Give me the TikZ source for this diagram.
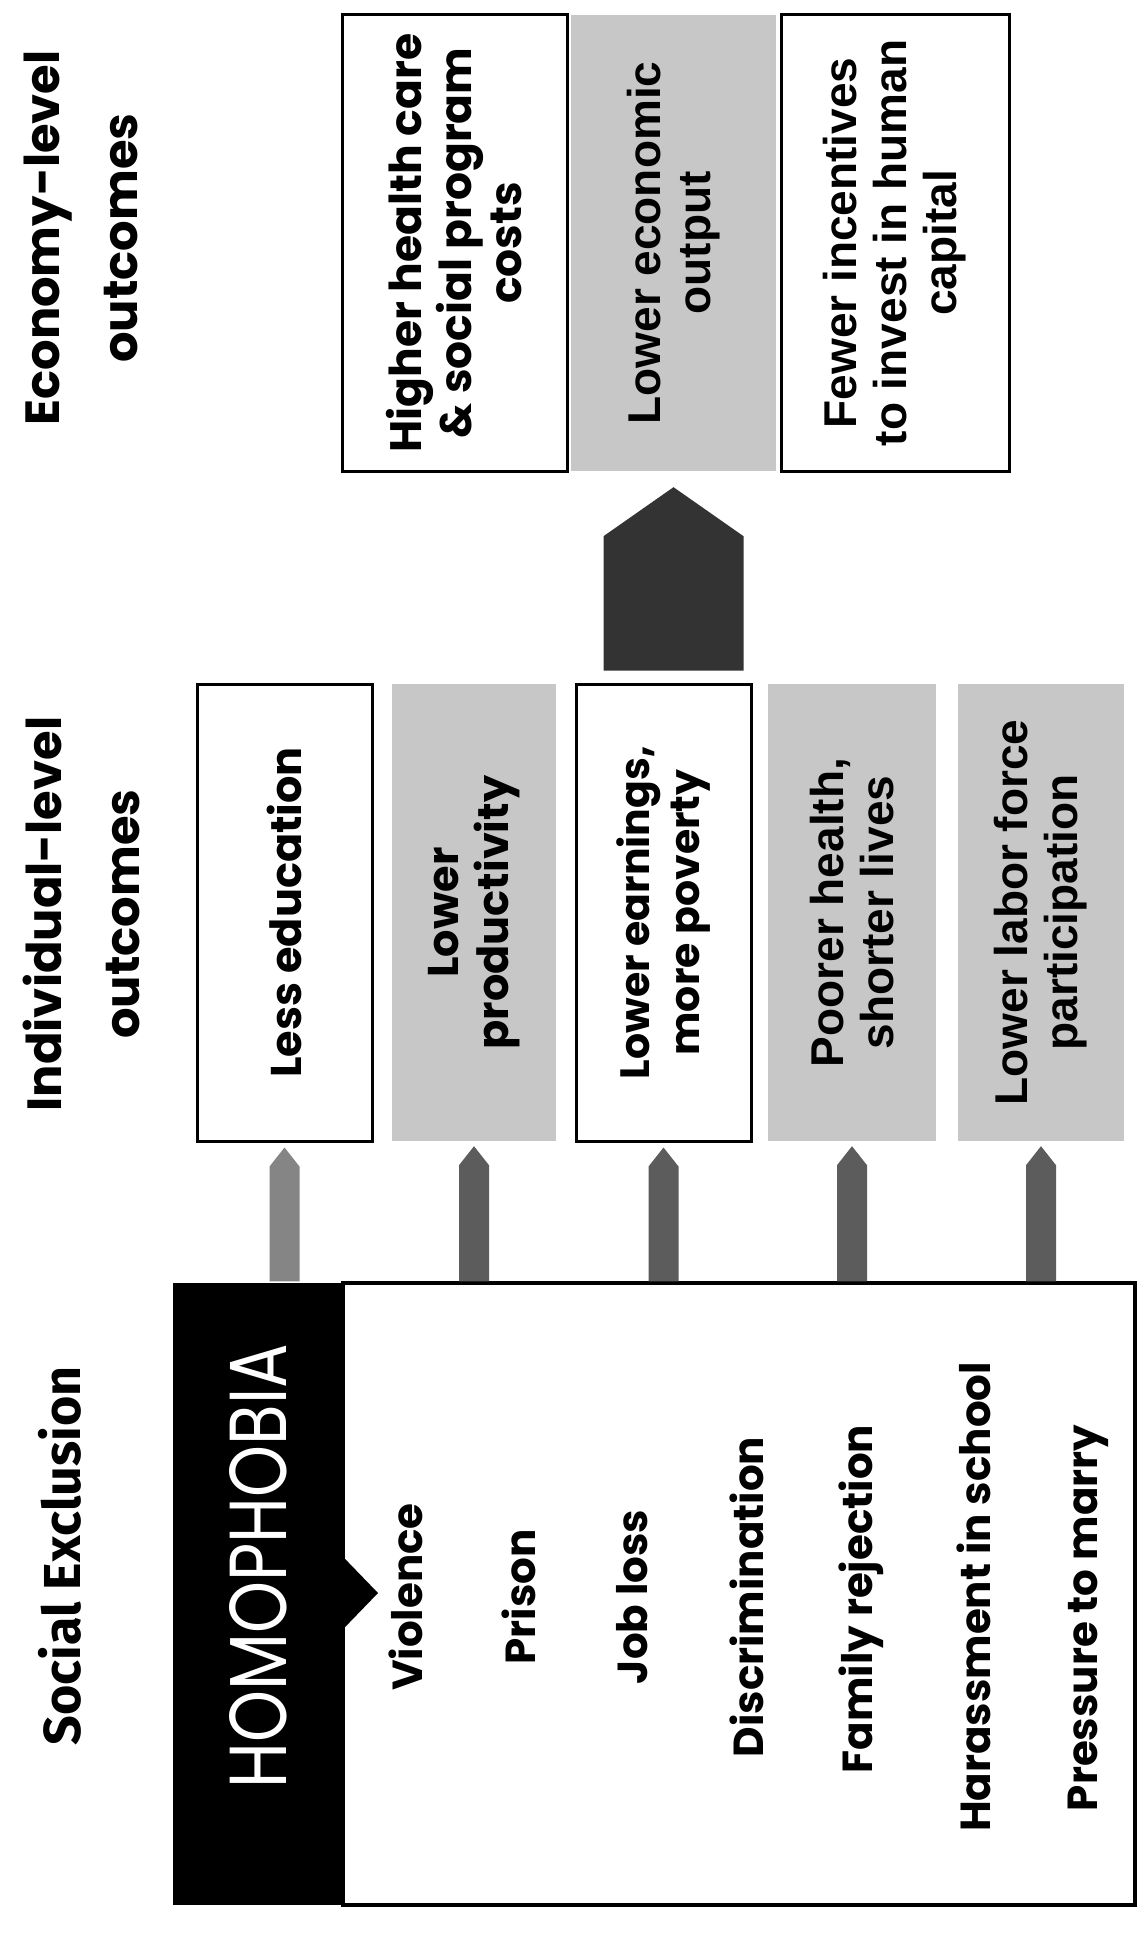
\documentclass[tikz,border=0pt]{standalone}
\usepackage{fontspec}
\setmainfont{Poppins}
\newfontfamily\arialf{Liberation Sans}
\newfontfamily\gillf{Fira Sans}
\usetikzlibrary{calc}

\tikzset{
  wbox/.style={draw=black, line width=3pt, fill=white, rotate=90, align=center, inner sep=0pt},
  gbox/.style={fill=black!22, rotate=90, align=center, inner sep=0pt},
  cgtext/.style={font=\fontsize{43}{50}\selectfont\bfseries},
  artext/.style={font=\arialf\fontsize{46}{50}\selectfont\bfseries},
  item/.style={rotate=90, font=\fontsize{42}{50}\selectfont\bfseries},
  title/.style={rotate=90, align=center, font=\fontsize{48}{78}\selectfont\bfseries},
  arrA/.style={fill=black!48},
  arrB/.style={fill=black!64},
  bigarr/.style={fill=black!80},
}

\begin{document}
\begin{tikzpicture}[x=1pt,y=-1pt]
\useasboundingbox (0,0) rectangle (1142,1934);
\fill[white] (0,0) rectangle (1142,1934);

% titles
\node[rotate=90, font=\gillf\fontsize{52}{58}\selectfont\bfseries] (tsoc) at (60,1556) {Social Exclusion};
\node[title] (tind) at (81,914) {Individual-level\\outcomes};
\node[title] (teco) at (81,238) {Economy-level\\outcomes};

% economy-level boxes
\node[wbox, cgtext, font=\fontsize{44}{50}\selectfont\bfseries, minimum width=456, minimum height=225] (hc) at (454.5,243) {Higher health care\\\& social program\\costs};
\node[gbox, artext, minimum width=456, minimum height=205] (eo) at (673.5,243) {Lower economic\\output};
\node[wbox, artext, minimum width=456, minimum height=228] (fi) at (895,243) {Fewer incentives\\to invest in human\\capital};

% individual-level boxes
\node[wbox, cgtext, minimum width=457, minimum height=175] (le) at (284.5,912.5) {Less education};
\node[gbox, cgtext, minimum width=457, minimum height=164] (lp) at (474,912.5) {Lower\\productivity};
\node[wbox, cgtext, font=\fontsize{41}{50}\selectfont\bfseries, minimum width=457, minimum height=175] (lm) at (663.5,912.5) {Lower earnings,\\more poverty};
\node[gbox, artext, minimum width=457, minimum height=168] (ph) at (852,912.5) {Poorer health,\\shorter lives};
\node[gbox, artext, minimum width=457, minimum height=166] (ll) at (1041,912.5) {Lower labor force\\participation};

% social exclusion box
\node[draw=black, line width=3.5pt, fill=white, minimum width=792, minimum height=622, inner sep=0pt] (list) at (739,1594) {};
\node[fill=black, rotate=90, minimum width=622, minimum height=170, inner sep=0pt] (homo) at (258,1594) {};
\node[rotate=90, text=white, inner sep=0pt, font=\fontsize{60}{64}\selectfont] (homotext) at (258,1566) {\resizebox{444pt}{57pt}{HOMOPHOBIA}};
\fill[black] (homo.south |- 0,1557) -- (378,1593) -- (homo.south |- 0,1629) -- cycle;

\node[item] (i1) at (406,1597) {Violence};
\node[item] (i2) at (519,1597) {Prison};
\node[item] (i3) at (632,1597) {Job loss};
\node[item] (i4) at (747,1597) {Discrimination};
\node[item] (i5) at (861,1599) {Family rejection};
\node[item] (i6) at (974,1597) {Harassment in school};
\node[item] (i7) at (1088,1618) {Pressure to marry};

% small arrows
\foreach \n/\c in {le/arrA, lp/arrB, lm/arrB, ph/arrB, ll/arrB} {
  \fill[\c] ($(\n.west)+(0,5)$) -- ($(\n.west)+(15,24)$)
    -- ($(\n.west |- list.north)+(15,0)$) -- ($(\n.west |- list.north)+(-15,0)$)
    -- ($(\n.west)+(-15,24)$) -- cycle;
}

% big arrow
\fill[bigarr] ($(eo.west)+(0,16)$) -- ($(eo.west)+(70,65)$)
  -- ($(eo.west |- lm.east)+(70,-12)$) -- ($(eo.west |- lm.east)+(-70,-12)$)
  -- ($(eo.west)+(-70,65)$) -- cycle;
\end{tikzpicture}
\end{document}
